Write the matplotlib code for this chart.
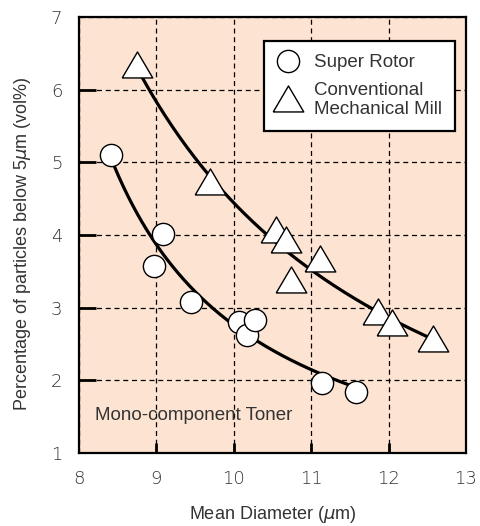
import numpy as np
import matplotlib
matplotlib.use('Agg')
import matplotlib.pyplot as plt

plt.rcParams['font.family'] = ['Liberation Sans', 'DejaVu Sans']

# data
rotor_x = [8.42, 9.09, 8.97, 9.45, 10.07, 10.17, 10.28, 11.14, 11.58]
rotor_y = [5.10, 4.02, 3.58, 3.08, 2.80, 2.62, 2.83, 1.97, 1.84]
mill_x = [8.75, 9.69, 10.55, 10.68, 11.11, 10.74, 11.86, 12.04, 12.58]
mill_y = [6.32, 4.72, 4.05, 3.92, 3.66, 3.36, 2.92, 2.78, 2.56]

# range covered by each fitted trend line
rotor_fit_range = (8.45, 11.5)
mill_fit_range = (8.82, 12.53)

bg = '#fde3d1'
tri = [(-1, -0.75), (1, -0.75), (0, 0.95), (-1, -0.75)]


def trend(x, y, lo, hi):
    # hyperbolic fit y = a + b / (x - c), c picked by least squares
    x = np.asarray(x)
    y = np.asarray(y)
    best = None
    for c in np.linspace(0, min(x) - 0.3, 400):
        A = np.column_stack([np.ones_like(x), 1 / (x - c)])
        coef, res, *_ = np.linalg.lstsq(A, y, rcond=None)
        err = np.sum((A @ coef - y) ** 2)
        if best is None or err < best[0]:
            best = (err, c, coef)
    _, c, (a, b) = best
    xs = np.linspace(lo, hi, 200)
    return xs, a + b / (xs - c)


fig = plt.figure(figsize=(4.81, 5.26), dpi=100)
ax = fig.add_axes([0.1642, 0.1388, 0.8046, 0.8289])
ax.set_facecolor(bg)

xs, ys = trend(rotor_x, rotor_y, *rotor_fit_range)
ax.plot(xs, ys, color='black', lw=2.3, zorder=3)
xs, ys = trend(mill_x, mill_y, *mill_fit_range)
ax.plot(xs, ys, color='black', lw=2.3, zorder=3)

ax.plot(rotor_x, rotor_y, 'o', ms=16, mfc='white', mec='black', mew=1.0,
        zorder=4, label='Super Rotor')
ax.plot(mill_x, mill_y, marker=tri, ls='none', ms=22, mfc='white', mec='black',
        mew=1.0, zorder=4, label='Conventional\nMechanical Mill')

ax.set_xlim(8, 13)
ax.set_ylim(1, 7)
ax.set_xticks([8, 9, 10, 11, 12, 13])
ax.set_yticks([1, 2, 3, 4, 5, 6, 7])
ax.grid(True, color='black', lw=0.9, linestyle=(0, (4, 3)))
ax.set_axisbelow(True)

for s in ax.spines.values():
    s.set_linewidth(1.6)

ax.tick_params(axis='both', direction='in', labelsize=13, labelcolor='#333333',
               width=2, pad=12)
ax.tick_params(axis='y', length=12)
ax.tick_params(axis='x', length=7)
for lab in ax.get_xticklabels() + ax.get_yticklabels():
    lab.set_fontfamily('DejaVu Sans')
    lab.set_fontweight('light')
for t in ax.xaxis.get_major_ticks():
    if t.get_loc() in (8, 13):
        t.tick1line.set_visible(False)
for t in ax.yaxis.get_major_ticks():
    if t.get_loc() in (1, 7):
        t.tick1line.set_visible(False)

ax.set_xlabel('Mean Diameter ($\\mu$m)', fontsize=13, color='#333333', labelpad=12)
ax.set_ylabel('Percentage of particles below 5$\\mu$m (vol%)', fontsize=13,
              color='#333333')
ax.yaxis.set_label_coords(-0.12, 0.48)

ax.text(8.21, 1.455, 'Mono-component Toner', fontsize=13.5, color='#333333',
        va='baseline', ha='left')

leg = ax.legend(loc='upper right', bbox_to_anchor=(0.972, 0.945),
                borderaxespad=0, fontsize=13.5, frameon=True, fancybox=False,
                edgecolor='black', framealpha=1, handletextpad=0.85,
                labelspacing=0.55, borderpad=0.7, handlelength=1.1,
                labelcolor='#333333')
leg.get_frame().set_linewidth(1.6)
leg.set_zorder(6)

fig.savefig('out.png', dpi=100)
